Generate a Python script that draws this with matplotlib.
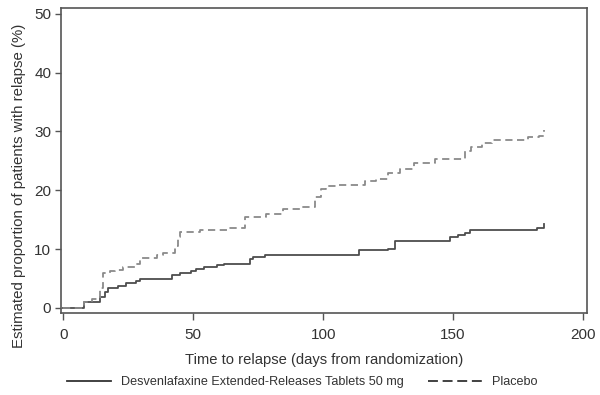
import matplotlib

matplotlib.use("Agg")
import matplotlib.pyplot as plt
from matplotlib.lines import Line2D

plt.rcParams["font.family"] = ["Liberation Sans", "DejaVu Sans"]

# Kaplan-Meier step points (day, cumulative % relapsed)
drug_days = [0, 8, 14, 16, 17, 21, 24, 28, 29.5, 42, 45, 49, 51, 54, 59, 62, 72, 73, 77.5,
             114, 125, 127.5, 149, 152, 154.5, 156.5, 182.5, 185]
drug_pct = [0, 1.1, 1.9, 2.8, 3.4, 3.8, 4.2, 4.6, 5.0, 5.6, 6.0, 6.3, 6.6, 7.0, 7.3, 7.5, 8.3, 8.6, 9.0,
            9.8, 10.1, 11.4, 12.0, 12.4, 12.8, 13.2, 13.6, 14.3]

placebo_days = [0, 8, 11, 14, 15.3, 18, 20, 23, 28, 29.5, 36, 38.5, 43, 44, 45, 52.6, 63, 70, 78,
                84.6, 92, 97, 99, 101, 105, 116, 120.5, 125, 129.5, 135, 143, 154.5, 157, 161,
                165, 179, 183, 185]
placebo_pct = [0, 1.1, 1.5, 3.4, 5.9, 6.3, 6.5, 6.9, 7.5, 8.5, 9.0, 9.4, 10.5, 12.0, 13.0, 13.3, 13.6,
               15.4, 16.0, 16.8, 17.2, 18.9, 20.2, 20.7, 20.9, 21.5, 22.0, 22.9, 23.6, 24.6, 25.3,
               26.6, 27.4, 28.0, 28.5, 29.0, 29.3, 30.3]

x_ticks = [0, 50, 100, 150, 200]
y_ticks = [0, 10, 20, 30, 40, 50]

drug_label = "Desvenlafaxine Extended-Releases Tablets 50 mg"
placebo_label = "Placebo"

TEXT = "#333333"

fig = plt.figure(figsize=(6.0, 3.95), dpi=100)
ax = fig.add_axes([0.1017, 0.2076, 0.8763, 0.7709])

ax.plot(drug_days, drug_pct, drawstyle="steps-post", color="#4d4d4d", linewidth=1.3)
ax.plot(placebo_days, placebo_pct, drawstyle="steps-post", color="#8a8a8a", linewidth=1.3,
        dashes=(4, 2.5))

ax.set_xlim(-0.9, 201.5)
ax.set_ylim(-0.85, 50.9)
ax.set_xticks(x_ticks)
ax.set_yticks(y_ticks)
for spine in ax.spines.values():
    spine.set_color("#555555")
    spine.set_linewidth(1.2)
ax.tick_params(length=4, width=1, color="#555555", labelsize=11, labelcolor=TEXT)
ax.tick_params(axis="x", length=5, pad=6)
ax.tick_params(axis="y", pad=3)

ax.set_xlabel("Time to relapse (days from randomization)", fontsize=10.6, color=TEXT)
ax.set_ylabel("Estimated proportion of patients with relapse (%)", fontsize=10.8, color=TEXT)
ax.xaxis.set_label_coords(0.5, -0.133)
ax.yaxis.set_label_coords(-0.066, 0.417)

# two single-entry legends so the solid and dashed keys can differ in length
legend_kw = dict(loc="center left", frameon=False, fontsize=9.1, borderpad=0, borderaxespad=0,
                 handletextpad=0.8, labelcolor=TEXT)
fig.legend([Line2D([], [], color="#333333", linewidth=1.3)], [drug_label],
           bbox_to_anchor=(67 / 600, 1 - 382 / 395), handlelength=3.45, **legend_kw)
fig.legend([Line2D([], [], color="#333333", linewidth=1.3, dashes=(5.5, 2.6))], [placebo_label],
           bbox_to_anchor=(428 / 600, 1 - 382 / 395), handlelength=4.3, **legend_kw)

fig.savefig("out.png", dpi=100)
